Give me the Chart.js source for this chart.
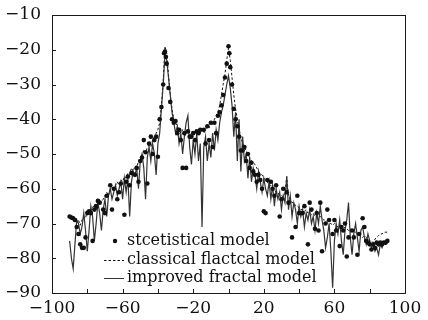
<!DOCTYPE html>
<html>
<head>
<meta charset="utf-8">
<script src="https://cdn.jsdelivr.net/npm/chart.js@4.4.1/dist/chart.umd.min.js"></script>
<style>
  html, body { margin: 0; padding: 0; background: #fff; }
  canvas { display: block; }
</style>
</head>
<body>
<canvas id="scatterGraph" width="428" height="320"></canvas>
<script>
// angle positions for the two model curves
const lineX = [
  -90, -89, -88, -87, -86, -85, -84, -83, -82, -81,
  -80, -79, -78, -77, -76, -75, -74, -73, -72, -71,
  -70, -69, -68, -67, -66, -65, -64, -63, -62, -61,
  -60, -59, -58, -57, -56, -55, -54, -53, -52, -51,
  -50, -49, -48, -47, -46, -45, -44, -43, -42, -41,
  -40, -39, -38, -37, -36, -35, -34, -33, -32, -31,
  -30, -29, -28, -27, -26, -25, -24, -23, -22, -21,
  -20, -19, -18, -17, -16, -15, -14, -13, -12, -11,
  -10, -9, -8, -7, -6, -5, -4, -3, -2, -1,
  0,
  1, 2, 3, 4, 5, 6, 7, 8, 9, 10,
  11, 12, 13, 14, 15, 16, 17, 18, 19, 20,
  21, 22, 23, 24, 25, 26, 27, 28, 29, 30,
  31, 32, 33, 34, 35, 36, 37, 38, 39, 40,
  41, 42, 43, 44, 45, 46, 47, 48, 49, 50,
  51, 52, 53, 54, 55, 56, 57, 58, 59, 60,
  61, 62, 63, 64, 65, 66, 67, 68, 69, 70,
  71, 72, 73, 74, 75, 76, 77, 78, 79, 80,
  81, 82, 83, 84, 85, 86, 87, 88, 89, 90
];

// classical fractal model (dashed)
const classicalY = [
  -68.5, -68.5, -69, -69.5, -70, -69, -70.5, -69, -68, -68.5,
  -66, -67, -66, -65.5, -64.5, -66, -64, -63, -64, -63,
  -62, -61, -62, -60, -59.5, -60.5, -59, -58, -59, -57.5,
  -58, -56.5, -57, -55.5, -56, -54, -55, -53.5, -54, -52,
  -52.5, -51, -49, -50, -48, -47.5, -48, -46, -45, -44,
  -43, -41, -36, -29, -19, -21, -27, -33, -37, -40,
  -41, -42, -43, -44, -43, -45, -44, -43, -44, -45,
  -44, -43.5, -44, -43, -44, -43, -44, -43, -42, -42.5,
  -41, -41.5, -40, -39, -38, -36, -33, -30, -27, -23,
  -19.5,
  -23, -28, -33, -37, -40, -43, -45, -47, -48, -49,
  -50, -51, -52, -52.5, -53, -54, -55, -55.5, -56, -57,
  -57.5, -58, -59, -59, -60, -60.5, -61, -61, -62, -62,
  -62.5, -61, -56.5, -62, -63, -64, -64, -65, -65, -65.5,
  -66, -66, -66.5, -66, -67, -67, -67.5, -67, -68, -67.5,
  -68, -68, -68.5, -69, -69, -69.5, -70, -70, -70.5, -70,
  -70.5, -71, -71, -71, -71.5, -71, -71.5, -72, -72, -72,
  -72.5, -72.5, -73, -73, -73.5, -74, -73.5, -74, -74.5, -75,
  -75, -75.5, -74.5, -74, -73.5, -73, -73, -72.5, -72.5, -72.5
];

// improved fractal model (solid)
const improvedY = [
  -75, -80, -83, -76, -69, -70, -73, -71, -67, -72,
  -78, -72, -65, -68, -75, -70, -64, -67, -72, -66,
  -63, -68, -62, -60, -63, -61, -59, -62, -60, -58,
  -63, -57, -61, -57, -68, -58, -55, -56, -54, -60,
  -52, -50, -54, -63, -51, -48, -52, -47, -50, -56,
  -47, -44, -37, -30, -21.5, -23, -28, -33, -38, -41,
  -44, -42, -47, -44, -50, -45, -41, -39, -48, -53,
  -46, -50, -44, -52, -47, -71, -48, -45, -52, -47,
  -51, -44, -49, -43, -46, -41, -38, -36, -33, -30,
  -27.5,
  -31, -36, -45, -38, -52, -40, -55, -45, -52, -50,
  -57, -51, -58, -54, -56, -60, -55, -58, -61, -57,
  -60, -62, -58, -63, -59, -65, -60, -63, -61, -66,
  -62, -64, -56.5, -66, -62, -68, -64, -66, -70, -65,
  -68, -66, -71, -67, -69, -66, -70, -68, -72, -67,
  -70, -65, -69, -72, -77, -74, -70, -78, -88.5, -75,
  -70, -73, -69, -75, -79, -72, -69, -64, -74, -79,
  -73, -70, -74, -78, -72, -71, -74, -76, -73, -75,
  -77, -76, -78, -77, -79, -76, -77, -75.5, -76, -75.5
];

// statistical model (dots)
const statX = [
  -90, -89, -88, -87, -86, -85, -84, -83, -82, -81,
  -80, -79, -78, -77, -76, -75, -74, -73, -71, -70,
  -69, -67, -66, -65, -63, -62, -61, -59, -58, -57,
  -56, -55, -53, -52, -51, -50, -49, -48, -47, -46,
  -45, -44, -43, -42, -41, -40, -39, -38, -37, -36.5,
  -36, -35.5, -35, -34, -33, -32, -31, -30, -29, -28,
  -27, -26, -25, -24, -23, -22, -21, -20, -19, -18,
  -17, -16, -14, -13, -12, -11, -10, -9, -8, -7,
  -6, -5, -4, -3, -2, -1, 0, 0.5, 1, 2,
  3, 4, 5, 6, 7, 8, 9, 10, 11, 12,
  13, 14, 15, 16, 17, 18, 19, 20, 21, 22,
  24, 25, 26, 27, 29, 30, 31, 33, 34, 36,
  38, 39, 40, 42, 43, 45, 46, 47, 49, 50,
  51, 52, 53, 55, 56, 57, 59, 60, 61, 63,
  64, 65, 66, 67, 68, 70, 71, 73, 74, 76,
  77, 78, 79, 80, 81, 82, 83, 84, 85, 86,
  87, 88, 89, 90
];
const statY = [
  -68, -68.3, -68.5, -69, -71, -73, -76, -77, -77, -74,
  -67, -66.5, -67, -75, -66, -65, -63.5, -64, -66, -67,
  -62, -59, -66, -60, -63, -61, -58.5, -67.5, -58, -56.5,
  -59, -55.5, -56, -54, -58, -52, -51, -46, -49.5, -58.5,
  -47, -45, -50, -46, -45, -50.8, -40, -36.5, -30, -21,
  -20.5, -22, -24, -31, -35, -40, -41, -40.5, -44, -43,
  -46, -54, -44, -54, -43.5, -45, -45, -44, -46, -43.5,
  -44, -43, -43, -47, -42, -46, -41, -48, -41, -44,
  -39, -38, -36, -33, -28, -24, -19, -21, -25, -30,
  -37, -40, -42, -45, -49, -49, -48, -52, -50, -54,
  -52.5, -55, -56, -58, -56, -57.5, -60, -66.5, -67, -57.5,
  -58, -60, -62, -59, -68, -63, -60, -61, -64, -74,
  -71, -62, -67, -67, -65, -76, -64, -66, -71.5, -67,
  -72, -64, -78, -70, -66, -69, -73, -69, -72, -76.5,
  -71, -72, -70, -79.5, -74, -72, -74, -79, -73, -68.5,
  -71, -75, -75.5, -76, -77.5, -76, -77, -75.5, -76, -75.5,
  -76, -75.5, -75.5, -75
];

const xTicks = [-100, -60, -20, 20, 60, 100];
const legendLabels = ['stcetistical model', 'classical flactcal model', 'improved fractal model'];

const serif = '"DejaVu Serif", "Liberation Serif", serif';

function toPoints(xs, ys) {
    return xs.map((x, i) => ({ x: x, y: ys[i] }));
}

function minusLabel(v) {
    return v < 0 ? '\u2212' + Math.abs(v) : String(v);
}

// box, inward tick marks and the in-plot legend
const framePlugin = {
    id: 'framePlugin',
    afterDraw(chart) {
        const ctx = chart.ctx;
        const a = chart.chartArea;
        const xs = chart.scales.x;
        const ys = chart.scales.y;
        ctx.save();
        ctx.strokeStyle = '#1a1a1a';
        ctx.lineWidth = 1;
        ctx.strokeRect(Math.round(a.left) + 0.5, Math.round(a.top) + 0.5,
            Math.round(a.right - a.left), Math.round(a.bottom - a.top));
        ctx.beginPath();
        xs.ticks.forEach(t => {
            const px = Math.round(xs.getPixelForValue(t.value)) + 0.5;
            ctx.moveTo(px, a.bottom);
            ctx.lineTo(px, a.bottom - 4);
        });
        ys.ticks.forEach(t => {
            const py = Math.round(ys.getPixelForValue(t.value)) + 0.5;
            ctx.moveTo(a.left, py);
            ctx.lineTo(a.left + 4, py);
        });
        ctx.stroke();

        // legend
        const lx = 104, tx = 127;
        const rows = [241, 259.5, 278];
        ctx.fillStyle = '#111';
        ctx.font = '16px ' + serif;
        ctx.textBaseline = 'middle';
        ctx.textAlign = 'left';
        legendLabels.forEach((label, i) => ctx.fillText(label, tx, rows[i]));
        ctx.beginPath();
        ctx.arc(115, rows[0], 2.2, 0, Math.PI * 2);
        ctx.fill();
        ctx.lineWidth = 1;
        ctx.strokeStyle = '#111';
        ctx.setLineDash([2.5, 2]);
        ctx.beginPath();
        ctx.moveTo(lx, Math.round(rows[1]) + 0.5);
        ctx.lineTo(lx + 20, Math.round(rows[1]) + 0.5);
        ctx.stroke();
        ctx.setLineDash([]);
        ctx.strokeStyle = '#333';
        ctx.beginPath();
        ctx.moveTo(lx, rows[2] + 0.5);
        ctx.lineTo(lx + 20, rows[2] + 0.5);
        ctx.stroke();
        ctx.restore();
    }
};

function renderScatterChart() {
    const ctx = document.getElementById('scatterGraph').getContext('2d');
    new Chart(ctx, {
        type: 'scatter',
        data: {
            datasets: [{
                label: legendLabels[0],
                data: toPoints(statX, statY),
                pointRadius: 2.3,
                pointBackgroundColor: '#111',
                pointBorderWidth: 0,
                showLine: false,
                order: 0
            }, {
                label: legendLabels[2],
                data: toPoints(lineX, improvedY),
                showLine: true,
                borderColor: '#333',
                borderWidth: 1.2,
                pointRadius: 0,
                tension: 0,
                order: 1
            }, {
                label: legendLabels[1],
                data: toPoints(lineX, classicalY),
                showLine: true,
                borderColor: '#111',
                borderWidth: 1,
                borderDash: [2.5, 2],
                pointRadius: 0,
                tension: 0,
                order: 2
            }]
        },
        options: {
            responsive: false,
            animation: false,
            devicePixelRatio: 1,
            layout: {
                padding: { top: 15, right: 23, left: 0, bottom: 0 }
            },
            scales: {
                x: {
                    type: 'linear',
                    min: -100,
                    max: 100,
                    grid: { display: false },
                    border: { display: false },
                    afterFit: scale => { scale.height = 27; },
                    ticks: {
                        stepSize: 20,
                        autoSkip: false,
                        maxRotation: 0,
                        padding: -3,
                        color: '#111',
                        font: { family: serif, size: 17 },
                        callback: v => xTicks.includes(v) ? minusLabel(v) : ''
                    }
                },
                y: {
                    min: -90,
                    max: -10,
                    grid: { display: false },
                    border: { display: false },
                    afterFit: scale => { scale.width = 52; },
                    ticks: {
                        stepSize: 10,
                        padding: 3,
                        color: '#111',
                        font: { family: serif, size: 17 },
                        callback: v => minusLabel(v)
                    }
                }
            },
            plugins: {
                legend: { display: false },
                tooltip: { enabled: false }
            }
        },
        plugins: [framePlugin]
    });
}

renderScatterChart();
</script>
</body>
</html>
